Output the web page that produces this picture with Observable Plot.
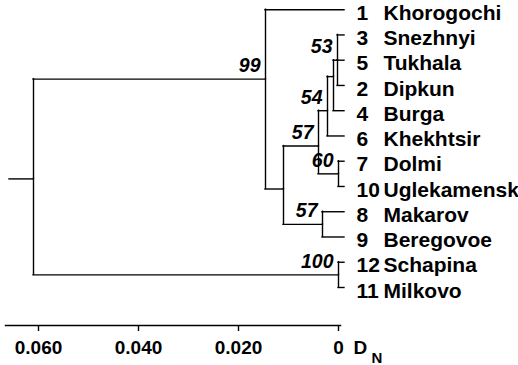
<!DOCTYPE html>
<html>
<head>
<meta charset="utf-8">
<script src="https://cdn.jsdelivr.net/npm/d3@7"></script>
<script src="https://cdn.jsdelivr.net/npm/@observablehq/plot@0.6"></script>
<style>
  html, body { margin: 0; padding: 0; background: #fff; }
</style>
</head>
<body>
<div id="chart"></div>
<script>
// Internal nodes of the dendrogram (distance in D_N, vertical rank in leaf units)
const nodeIds      = ["root", "n99", "nA", "n57a", "n54", "nB", "n53", "n60", "n57b", "n100"];
const nodeParent   = [null, "root", "n99", "nA", "n57a", "n54", "nB", "n57a", "nA", "root"];
const nodeDist     = [0.0614, 0.0150, 0.0114, 0.0044, 0.0026, 0.0014, 0.0006, 0.0004, 0.0036, 0.0004];
const nodeRank     = [6.7, 2.75, 7.1, 5.4, 4.0, 2.65, 2.0, 6.5, 8.5, 10.5];
const nodeSupport  = [null, "99", null, "57", "54", null, "53", "60", "57", "100"];
const rootStemDist = 0.0662;

// Leaves, in drawing order from top to bottom
const leafNumbers = ["1", "3", "5", "2", "4", "6", "7", "10", "8", "9", "12", "11"];
const leafNames   = ["Khorogochi", "Snezhnyi", "Tukhala", "Dipkun", "Burga", "Khekhtsir",
                     "Dolmi", "Uglekamensk", "Makarov", "Beregovoe", "Schapina", "Milkovo"];
const leafParent  = ["n99", "n53", "n53", "n53", "nB", "n54", "n60", "n60", "n57b", "n57b", "n100", "n100"];
const leafTipDist = -0.0008;

// Axis
const tickValues = [0.06, 0.04, 0.02, 0];
const tickLabels = ["0.060", "0.040", "0.020", "0"];
const axisLabel = "D";
const axisLabelSub = "N";

// Build tree tables
const nodes = nodeIds.map((id, i) => ({
  id, parent: nodeParent[i], dist: nodeDist[i], rank: nodeRank[i], support: nodeSupport[i]
}));
const byId = new Map(nodes.map(n => [n.id, n]));
const leaves = leafNames.map((name, i) => ({
  name, num: leafNumbers[i], parent: leafParent[i], dist: leafTipDist, rank: i
}));
const children = [...nodes.filter(n => n.parent), ...leaves];
const hLinks = children.map(c => ({x1: byId.get(c.parent).dist, x2: c.dist, y: c.rank}));
const vLinks = children.map(c => ({x: byId.get(c.parent).dist, y1: byId.get(c.parent).rank, y2: c.rank}));
const root = byId.get("root");
hLinks.push({x1: rootStemDist, x2: root.dist, y: root.rank});
const supports = nodes.filter(n => n.support);

const FONT = "'Liberation Sans', Arial, Helvetica, sans-serif";
const lineOpts = {stroke: "#000", strokeWidth: 1.4, strokeLinecap: "square"};

const chart = Plot.plot({
  width: 518,
  height: 365,
  marginLeft: 5,
  marginRight: 178,
  marginTop: 0,
  marginBottom: 40,
  style: {fontFamily: FONT, fontWeight: "bold", background: "#fff", color: "#000"},
  x: {domain: [0.067, 0], range: [5, 340]},
  y: {domain: [0, 11], range: [9.2, 287], axis: null},
  marks: [
    Plot.frame({anchor: "bottom", stroke: "#000", strokeWidth: 1.4}),
    Plot.axisX({
      ticks: tickValues,
      tickFormat: d => tickLabels[tickValues.indexOf(d)],
      tickSize: 6,
      tickPadding: 9,
      fontSize: 19,
      strokeWidth: 1.4,
      dx: -2,
      label: null
    }),
    Plot.text([axisLabel], {x: () => 0, text: d => d, frameAnchor: "bottom", textAnchor: "start", lineAnchor: "top", dx: 13, dy: 15, fontSize: 19, fill: "#000"}),
    Plot.text([axisLabelSub], {x: () => 0, text: d => d, frameAnchor: "bottom", textAnchor: "start", lineAnchor: "top", dx: 31, dy: 27, fontSize: 15, fill: "#000"}),
    Plot.ruleY(hLinks, {y: "y", x1: "x1", x2: "x2", ...lineOpts}),
    Plot.ruleX(vLinks, {x: "x", y1: "y1", y2: "y2", ...lineOpts}),
    Plot.text(supports, {x: "dist", y: "rank", text: "support", textAnchor: "end", lineAnchor: "top",
      dx: -5, dy: -21, fontSize: 19.5, fontStyle: "italic", fill: "#000"}),
    Plot.text(leaves, {x: () => 0, y: "rank", text: "num", textAnchor: "start", lineAnchor: "middle",
      dx: 16, dy: 3.5, fontSize: 21, fill: "#000"}),
    Plot.text(leaves, {x: () => 0, y: "rank", text: "name", textAnchor: "start", lineAnchor: "middle",
      dx: 43, dy: 3.5, fontSize: 21, fill: "#000"})
  ]
});
document.getElementById("chart").appendChild(chart);
</script>
</body>
</html>
